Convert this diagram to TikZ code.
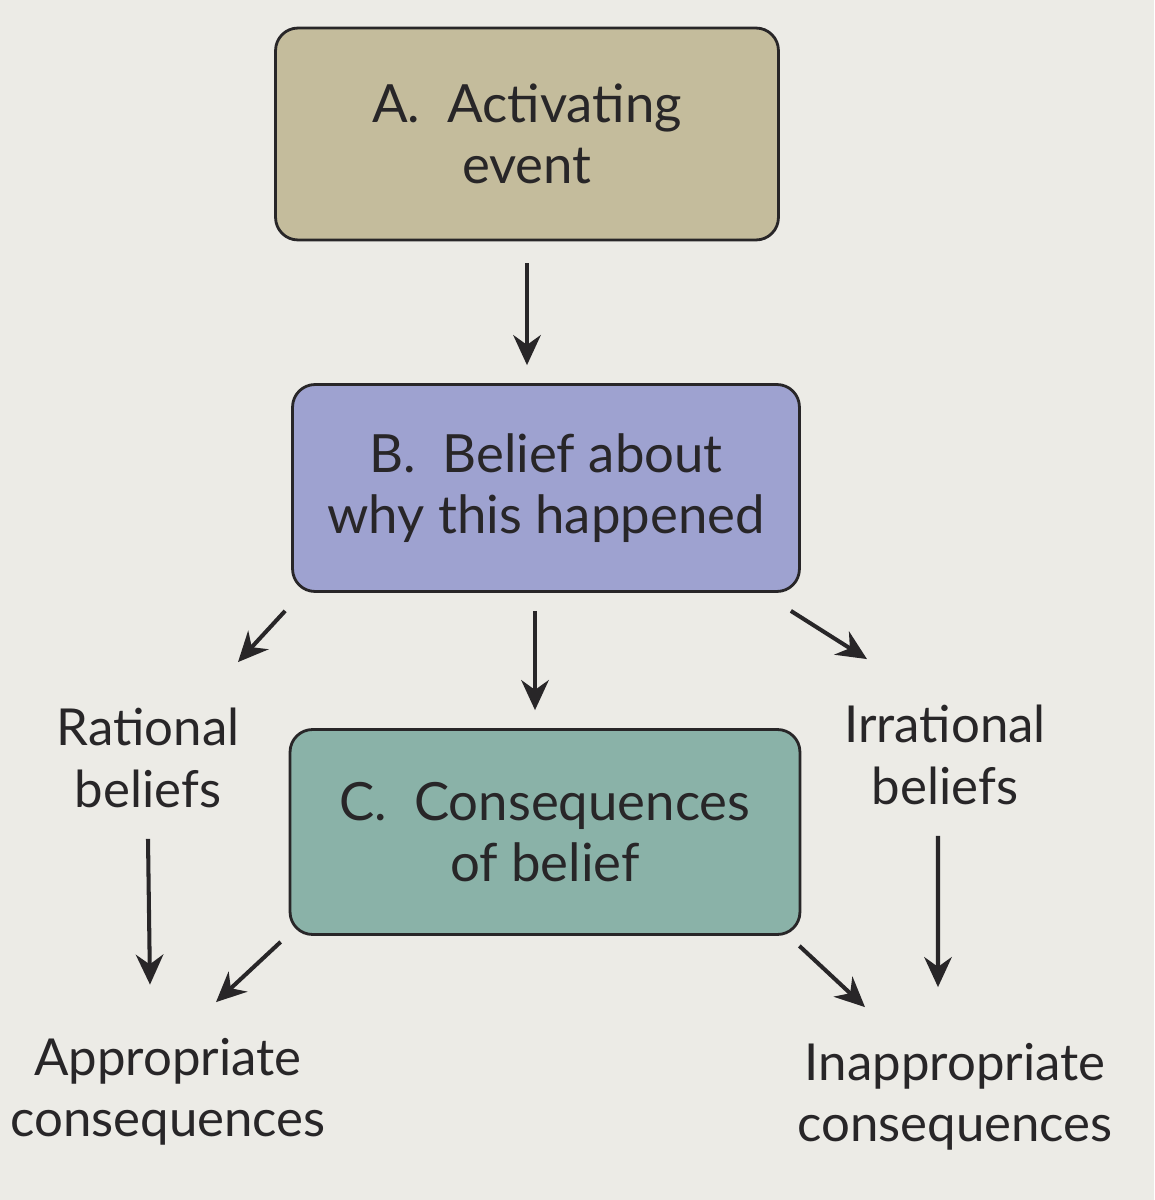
\documentclass[tikz,border=0pt]{standalone}
\usepackage{fontspec}
\setmainfont{Lato}
\usetikzlibrary{positioning,arrows.meta}
\definecolor{paper}{RGB}{236,235,230}
\definecolor{boxA}{RGB}{196,188,156}
\definecolor{boxB}{RGB}{158,162,208}
\definecolor{boxC}{RGB}{138,178,168}
\definecolor{ink}{RGB}{40,38,40}
\begin{document}
\begin{tikzpicture}[x=0.02cm, y=-0.02cm,
  stagebox/.style={draw=ink, line width=1.6pt, rounded corners=0.45cm, align=center, text=ink,
    font=\fontsize{30}{35}\selectfont},
  lbl/.style={align=center, text=ink, font=\fontsize{29}{35}\selectfont},
  arr/.style={-{Stealth[length=0.6cm,width=0.55cm]}, line width=2.3pt, draw=ink}]
  % Background
  \fill [paper] (0,0) rectangle (1154,1200);
  \useasboundingbox (0,0) rectangle (1154,1200);
  % Boxes
  \node [stagebox, fill=boxA, minimum width=10.06cm, minimum height=4.24cm] (act) at (527,134) {A.\ \ Activating\\event};
  \node [stagebox, fill=boxB, minimum width=10.14cm, minimum height=4.14cm] (bel) at (546,488) {B.\ \ Belief about\\why this happened};
  \node [stagebox, fill=boxC, minimum width=10.2cm, minimum height=4.1cm] (con) at (545,832) {C.\ \ Consequences\\of belief};
  % Labels
  \node [lbl] (rat) at (148,758) {Rational\\beliefs};
  \node [lbl] (irr) at (945,755) {Irrational\\beliefs};
  \node [lbl] (app) at (168,1092) {Appropriate\\consequences};
  \node [lbl] (inapp) at (955,1097) {Inappropriate\\consequences};
  % Arrows
  \draw [arr, shorten <=0.44cm, shorten >=0.36cm] (act.south) -- (act.south |- bel.north);
  \draw [arr, shorten <=0.36cm, shorten >=0.36cm] ([xshift=-0.22cm]bel.south) -- ([xshift=-0.2cm]con.north);
  \draw [arr] ([shift={(-6,18)}]bel.south west) -- ([shift={(90,-40)}]rat.north);
  \draw [arr] ([shift={(-10,18)}]bel.south east) -- ([shift={(-78,-40)}]irr.north);
  \draw [arr] ([yshift=-0.5cm]rat.south) -- ([xshift=-0.36cm,yshift=0.95cm]app.north);
  \draw [arr] ([shift={(-8,6)}]con.south west) -- ([shift={(48,-30)}]app.north);
  \draw [arr] ([shift={(-2,10)}]con.south east) -- ([shift={(-90,-30)}]inapp.north);
  \draw [arr] ([xshift=-0.14cm,yshift=-0.5cm]irr.south) -- ([xshift=-0.34cm,yshift=1.0cm]inapp.north);
\end{tikzpicture}
\end{document}
